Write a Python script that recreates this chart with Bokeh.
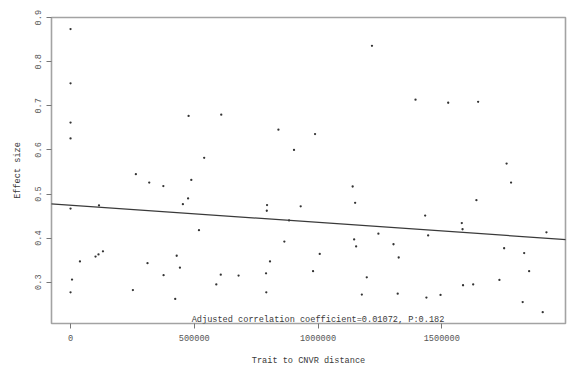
from bokeh.plotting import figure
from bokeh.models import Range1d, FixedTicker, NumeralTickFormatter, Slope
from bokeh.embed import file_html
from bokeh.resources import INLINE
from bokeh.core.properties import value

# Trait to CNVR distance (x) and effect size (y)
DIST = [0, 0, 0, 0, 477000, 609000, 540000, 264000, 1218000, 840000,
        988000, 903000, 1394000, 1526000, 1647000, 1762000, 318000, 375000, 488000, 475000,
        454000, 115000, 0, 519000, 38000, 101000, 113000, 131000, 6000, 0,
        311000, 429000, 442000, 376000, 252000, 423000, 589000, 607000, 1140000, 1150000,
        794000, 793000, 930000, 883000, 864000, 1007000, 806000, 790000, 980000, 791000,
        679000, 1146000, 1154000, 1244000, 1305000, 1197000, 1177000, 1780000, 1640000, 1433000,
        1581000, 1584000, 1445000, 1923000, 1326000, 1752000, 1833000, 1853000, 1733000, 1586000,
        1627000, 1322000, 1438000, 1495000, 1827000, 1908000]
EFFECT = [0.874, 0.751, 0.662, 0.626, 0.677, 0.680, 0.582, 0.545, 0.836, 0.646,
          0.636, 0.600, 0.714, 0.707, 0.709, 0.569, 0.526, 0.518, 0.532, 0.490,
          0.477, 0.474, 0.467, 0.418, 0.347, 0.358, 0.363, 0.370, 0.306, 0.277,
          0.343, 0.360, 0.333, 0.316, 0.282, 0.262, 0.295, 0.317, 0.517, 0.480,
          0.475, 0.462, 0.472, 0.440, 0.392, 0.364, 0.347, 0.320, 0.325, 0.277,
          0.315, 0.397, 0.381, 0.410, 0.386, 0.311, 0.272, 0.526, 0.486, 0.451,
          0.434, 0.420, 0.406, 0.413, 0.356, 0.377, 0.366, 0.325, 0.305, 0.293,
          0.295, 0.274, 0.265, 0.271, 0.255, 0.232]

# Regression line
INTERCEPT = 0.4745
SLOPE = -3.89e-8

X_TICKS = [0, 500000, 1000000, 1500000]
Y_TICKS = [0.3, 0.4, 0.5, 0.6, 0.7, 0.8, 0.9]

ANNOT = "Adjusted correlation coefficient=0.01072, P:0.182"
X_TITLE = "Trait to CNVR distance"
Y_TITLE = "Effect size"

FONT = "Liberation Mono"
FS = "8.6px"
TXT = "#3a3a3a"
GRAY = "#a3a3a3"

p = figure(width=571, height=369, output_backend="svg", toolbar_location=None,
           x_range=Range1d(-76900, 2000000), y_range=Range1d(0.2063, 0.9003),
           min_border_left=51, min_border_right=6, min_border_top=17, min_border_bottom=46)
p.grid.visible = False
p.background_fill_color = "white"
p.border_fill_color = "white"
p.outline_line_color = GRAY
p.outline_line_width = 1.6

for ax in (p.xaxis[0], p.yaxis[0]):
    ax.axis_line_color = None
    ax.major_tick_line_color = "#777777"
    ax.major_tick_in = 0
    ax.major_tick_out = 5
    ax.minor_tick_line_color = None
    ax.major_label_text_font = FONT
    ax.major_label_text_font_size = FS
    ax.major_label_text_color = "#555555"
    ax.axis_label_text_font = FONT
    ax.axis_label_text_font_size = FS
    ax.axis_label_text_font_style = "normal"
    ax.axis_label_text_color = TXT

p.xaxis.ticker = FixedTicker(ticks=X_TICKS)
p.xaxis.formatter = NumeralTickFormatter(format="0")
p.xaxis.major_label_standoff = 6
p.xaxis.axis_label = X_TITLE
p.xaxis.axis_label_standoff = 12

p.yaxis.ticker = FixedTicker(ticks=Y_TICKS)
p.yaxis.formatter = NumeralTickFormatter(format="0.0")
p.yaxis.major_label_orientation = "vertical"
p.yaxis.major_label_standoff = 5
p.yaxis.axis_label = Y_TITLE
p.yaxis.axis_label_standoff = 10

p.scatter(DIST, EFFECT, size=2.3, marker="circle", fill_color="#333333", line_color=None)

p.add_layout(Slope(gradient=SLOPE, y_intercept=INTERCEPT, line_color="#3a3a3a", line_width=1.2))

p.text(x=[1000000], y=[0.2145], text=[ANNOT], text_font=value(FONT), text_font_size=FS,
       text_color=TXT, text_align="center", text_baseline="alphabetic")

open("out.html", "w").write(file_html(p, INLINE))
